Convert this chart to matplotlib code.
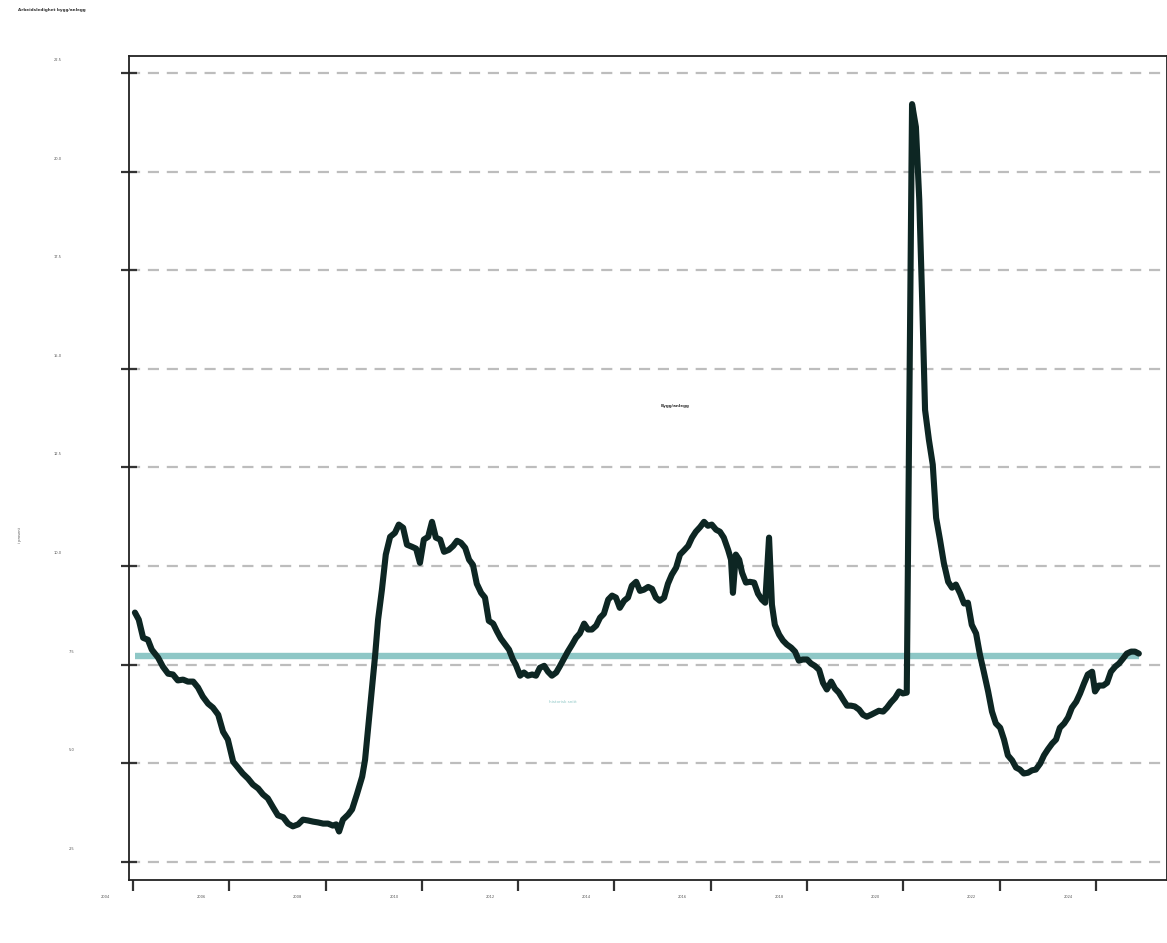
import matplotlib
matplotlib.use("Agg")
import matplotlib.pyplot as plt
import matplotlib.transforms as mtransforms
import numpy as np

# ---- data ----
years = [2004.04, 2004.12, 2004.21, 2004.31, 2004.39, 2004.52, 2004.62, 2004.73, 2004.83, 2004.93,
         2005.04, 2005.14, 2005.25, 2005.35, 2005.45, 2005.56, 2005.66, 2005.77, 2005.87, 2005.97,
         2006.08, 2006.18, 2006.28, 2006.39, 2006.49, 2006.60, 2006.70, 2006.80, 2006.91, 2007.01,
         2007.12, 2007.22, 2007.32, 2007.43, 2007.53, 2007.63, 2007.74, 2007.84, 2007.95, 2008.05,
         2008.15, 2008.22, 2008.28, 2008.36, 2008.47, 2008.55, 2008.65, 2008.76, 2008.82, 2008.88,
         2008.96, 2009.03, 2009.09, 2009.17, 2009.25, 2009.34, 2009.44, 2009.52, 2009.61, 2009.69,
         2009.79, 2009.88, 2009.96, 2010.04, 2010.13, 2010.21, 2010.29, 2010.38, 2010.46, 2010.56,
         2010.65, 2010.73, 2010.81, 2010.90, 2010.98, 2011.06, 2011.14, 2011.23, 2011.31, 2011.39,
         2011.48, 2011.56, 2011.64, 2011.73, 2011.81, 2011.89, 2011.95, 2012.04, 2012.12, 2012.20,
         2012.29, 2012.37, 2012.45, 2012.54, 2012.62, 2012.70, 2012.79, 2012.87, 2012.95, 2013.03,
         2013.12, 2013.20, 2013.28, 2013.37, 2013.45, 2013.53, 2013.62, 2013.70, 2013.78, 2013.87,
         2013.95, 2014.03, 2014.11, 2014.20, 2014.28, 2014.36, 2014.45, 2014.53, 2014.61, 2014.70,
         2014.78, 2014.86, 2014.94, 2015.03, 2015.11, 2015.19, 2015.28, 2015.36, 2015.44, 2015.53,
         2015.61, 2015.69, 2015.78, 2015.86, 2015.94, 2016.02, 2016.11, 2016.19, 2016.27, 2016.36,
         2016.42, 2016.46, 2016.52, 2016.59, 2016.65, 2016.73, 2016.81, 2016.90, 2016.98, 2017.06,
         2017.13, 2017.21, 2017.27, 2017.33, 2017.42, 2017.50, 2017.58, 2017.67, 2017.75, 2017.83,
         2017.91, 2018.00, 2018.08, 2018.16, 2018.25, 2018.33, 2018.41, 2018.50, 2018.58, 2018.66,
         2018.75, 2018.83, 2018.91, 2018.99, 2019.08, 2019.16, 2019.24, 2019.33, 2019.41, 2019.49,
         2019.58, 2019.66, 2019.74, 2019.83, 2019.91, 2019.99, 2020.07, 2020.18, 2020.26, 2020.33,
         2020.39, 2020.45, 2020.53, 2020.61, 2020.68, 2020.76, 2020.84, 2020.93, 2021.01, 2021.09,
         2021.18, 2021.26, 2021.34, 2021.42, 2021.51, 2021.59, 2021.67, 2021.76, 2021.84, 2021.92,
         2022.01, 2022.09, 2022.17, 2022.26, 2022.34, 2022.42, 2022.50, 2022.59, 2022.67, 2022.75,
         2022.84, 2022.92, 2023.00, 2023.09, 2023.17, 2023.25, 2023.34, 2023.42, 2023.50, 2023.59,
         2023.67, 2023.75, 2023.83, 2023.92, 2023.98, 2024.06, 2024.15, 2024.23, 2024.31, 2024.40,
         2024.48, 2024.56, 2024.64, 2024.73, 2024.81, 2024.89]
values = [8.82, 8.64, 8.18, 8.13, 7.88, 7.68, 7.45, 7.27, 7.25, 7.10,
          7.12, 7.07, 7.07, 6.92, 6.69, 6.51, 6.41, 6.23, 5.80, 5.60,
          5.04, 4.89, 4.74, 4.61, 4.46, 4.36, 4.21, 4.11, 3.88, 3.68,
          3.63, 3.47, 3.40, 3.45, 3.57, 3.55, 3.52, 3.50, 3.47, 3.47,
          3.42, 3.45, 3.27, 3.57, 3.70, 3.83, 4.21, 4.66, 5.09, 5.85,
          6.87, 7.75, 8.64, 9.40, 10.29, 10.74, 10.84, 11.05, 10.97, 10.54,
          10.49, 10.44, 10.08, 10.67, 10.74, 11.12, 10.72, 10.67, 10.36, 10.41,
          10.51, 10.64, 10.59, 10.46, 10.16, 10.03, 9.55, 9.32, 9.20, 8.61,
          8.54, 8.34, 8.16, 8.01, 7.88, 7.63, 7.50, 7.22, 7.30, 7.22,
          7.25, 7.22, 7.42, 7.47, 7.32, 7.22, 7.30, 7.47, 7.65, 7.83,
          8.01, 8.18, 8.29, 8.54, 8.39, 8.39, 8.49, 8.69, 8.79, 9.15,
          9.25, 9.20, 8.94, 9.12, 9.20, 9.50, 9.60, 9.37, 9.40, 9.47,
          9.42, 9.20, 9.12, 9.20, 9.55, 9.78, 9.96, 10.29, 10.39, 10.51,
          10.72, 10.87, 10.99, 11.12, 11.02, 11.05, 10.92, 10.87, 10.72, 10.41,
          10.16, 9.32, 10.29, 10.16, 9.83, 9.58, 9.60, 9.58, 9.30, 9.15,
          9.07, 10.72, 9.02, 8.51, 8.26, 8.11, 8.01, 7.93, 7.83, 7.60,
          7.63, 7.63, 7.53, 7.47, 7.37, 7.04, 6.87, 7.07, 6.89, 6.79,
          6.61, 6.46, 6.46, 6.44, 6.36, 6.23, 6.18, 6.23, 6.28, 6.33,
          6.31, 6.41, 6.54, 6.66, 6.82, 6.77, 6.79, 21.71, 21.13, 19.28,
          16.75, 13.96, 13.20, 12.57, 11.22, 10.67, 10.08, 9.60, 9.45, 9.53,
          9.30, 9.05, 9.07, 8.51, 8.29, 7.75, 7.32, 6.82, 6.31, 6.01,
          5.90, 5.60, 5.20, 5.07, 4.89, 4.84, 4.74, 4.76, 4.82, 4.84,
          4.99, 5.20, 5.35, 5.50, 5.60, 5.90, 6.01, 6.16, 6.41, 6.56,
          6.77, 7.02, 7.25, 7.32, 6.82, 6.97, 6.97, 7.04, 7.32, 7.45,
          7.53, 7.65, 7.78, 7.83, 7.83, 7.78]
average = 7.73
yticks = [2.5, 5.0, 7.5, 10.0, 12.5, 15.0, 17.5, 20.0, 22.5]
xticks = [2004, 2006, 2008, 2010, 2012, 2014, 2016, 2018, 2020, 2022, 2024]

title = "Arbeidsledighet bygg/anlegg"
series_label = "Bygg/anlegg"
avg_label = "historisk snitt"
ylabel = "i prosent"

# ---- figure ----
W, H, DPI = 1167, 943, 100
fig = plt.figure(figsize=(W / DPI, H / DPI), dpi=DPI)
ax = fig.add_axes([129 / W, 1 - 880 / H, 1 - 129 / W, (880 - 56) / H])

dark = "#0d2623"
teal = "#8ec7c6"

ax.plot([years[0], years[-1]], [average, average], color=teal, lw=4.6,
        solid_capstyle="butt", zorder=3)
ax.plot(years, values, color=dark, lw=4.4, solid_joinstyle="round",
        solid_capstyle="round", zorder=4)

ax.set_xlim(2003.917, 2025.475)
ax.set_ylim(2.04, 22.93)

for yt in yticks:
    ax.axhline(yt, color="#bdbdbd", lw=1.6, ls=(0, (5, 3.5)), zorder=1)

ax.set_yticks(yticks)
ax.set_xticks(xticks)
ax.tick_params(axis="y", direction="inout", length=11.5, width=1.6, color="#333333",
               labelleft=False)
ax.tick_params(axis="x", direction="out", length=8, width=1.6, color="#333333",
               labelbottom=False)
for s in ax.spines.values():
    s.set_color("#222222")
    s.set_linewidth(1.3)

# tick labels (placed above-left of ticks as in the reference)
for yt in yticks:
    lab = f"{yt:.1f}"
    xpix = 58 if len(lab) > 3 else 72
    tr = mtransforms.blended_transform_factory(fig.transFigure, ax.transData)
    ax.text(xpix / W, yt, lab, transform=tr + mtransforms.ScaledTranslation(0, 13 / DPI, fig.dpi_scale_trans),
            fontsize=2.6, color="#555555", ha="center", va="center")
for xt in xticks:
    tr = mtransforms.blended_transform_factory(ax.transData, fig.transFigure)
    ax.text(xt, 1 - 897 / H, str(xt),
            transform=tr + mtransforms.ScaledTranslation(-28 / DPI, 0, fig.dpi_scale_trans),
            fontsize=2.6, color="#555555", ha="center", va="center")

fig.text(18 / W, 1 - 10 / H, title, fontsize=3.0, fontweight="bold", color="#333333",
         ha="left", va="center")
fig.text(20 / W, 1 - 535 / H, ylabel, fontsize=2.6, color="#555555", rotation=90,
         ha="center", va="center")
ax.text(0.526, 0.575, series_label, transform=ax.transAxes, fontsize=3.0,
        fontweight="bold", color="#333333", ha="center", va="center")
ax.text(0.418, 0.216, avg_label, transform=ax.transAxes, fontsize=3.0,
        color=teal, ha="center", va="center")

fig.savefig("out.png", dpi=DPI)
